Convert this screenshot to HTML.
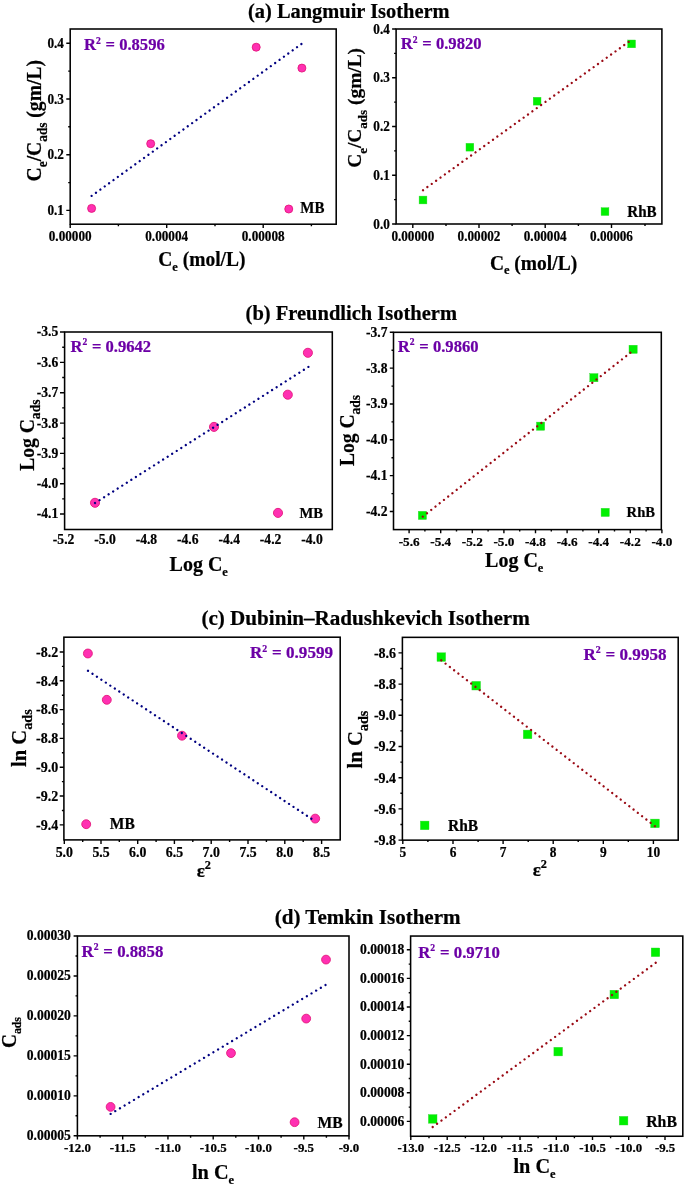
<!DOCTYPE html>
<html lang="en"><head><meta charset="utf-8"><title>Adsorption isotherms</title>
<style>html,body{margin:0;padding:0;background:#fff}svg{display:block}text{font-family:"Liberation Serif","Times New Roman",serif;font-weight:bold;fill:#000;stroke:#000;stroke-width:.22px;stroke-linejoin:round}</style></head><body>
<svg width="685" height="1186" viewBox="0 0 685 1186">
<rect width="685" height="1186" fill="#fff"/>
<text x="248.0" y="17.7" font-size="20.45" textLength="201.6" lengthAdjust="spacingAndGlyphs">(a) Langmuir Isotherm</text>
<text x="245.6" y="320.0" font-size="20.5" textLength="211.4" lengthAdjust="spacingAndGlyphs">(b) Freundlich Isotherm</text>
<text x="201.4" y="625.2" font-size="21.1" textLength="328.4" lengthAdjust="spacingAndGlyphs">(c) Dubinin–Radushkevich Isotherm</text>
<text x="274.7" y="923.8" font-size="21.0" textLength="185.9" lengthAdjust="spacingAndGlyphs">(d) Temkin Isotherm</text>
<g><rect x="70.2" y="29.0" width="266.0" height="195.2" fill="none" stroke="#000" stroke-width="1.55"/><path d="M70.2 43.2h-3.9M70.2 99.0h-3.9M70.2 154.7h-3.9M70.2 210.4h-3.9M70.2 71.1h-2.0M70.2 126.8h-2.0M70.2 182.6h-2.0M70.2 224.2v3.9M166.7 224.2v3.9M263.2 224.2v3.9M118.4 224.2v2.0M215.0 224.2v2.0M311.4 224.2v2.0" stroke="#000" stroke-width="1.4" fill="none"/><text transform="translate(63.90 47.90) scale(1 1.08)" font-size="13.2" text-anchor="end">0.4</text><text transform="translate(63.90 103.70) scale(1 1.08)" font-size="13.2" text-anchor="end">0.3</text><text transform="translate(63.90 159.40) scale(1 1.08)" font-size="13.2" text-anchor="end">0.2</text><text transform="translate(63.90 215.10) scale(1 1.08)" font-size="13.2" text-anchor="end">0.1</text><text transform="translate(70.20 240.60) scale(1 1.08)" font-size="13.2" text-anchor="middle">0.00000</text><text transform="translate(166.70 240.60) scale(1 1.08)" font-size="13.2" text-anchor="middle">0.00004</text><text transform="translate(263.20 240.60) scale(1 1.08)" font-size="13.2" text-anchor="middle">0.00008</text><circle cx="91.6" cy="208.4" r="4.00" fill="#FF30B2" stroke="#E4187C" stroke-width="0.9"/><circle cx="150.7" cy="143.7" r="4.00" fill="#FF30B2" stroke="#E4187C" stroke-width="0.9"/><circle cx="256.2" cy="47.2" r="4.00" fill="#FF30B2" stroke="#E4187C" stroke-width="0.9"/><circle cx="301.9" cy="68.1" r="4.00" fill="#FF30B2" stroke="#E4187C" stroke-width="0.9"/><circle cx="288.75" cy="209.0" r="4.00" fill="#FF30B2" stroke="#E4187C" stroke-width="0.9"/><line x1="91.6" y1="195.9" x2="301.48" y2="43.94" stroke="#000080" stroke-width="2.3" stroke-linecap="round" stroke-dasharray="0.01 5.386"/><text transform="translate(300.30 212.50) scale(1 1.06)" font-size="15.0">MB</text><text transform="translate(84.00 50.00) scale(1 1.03)" font-size="16.6" style="fill:#6C00A6;stroke:#6C00A6">R<tspan dy="-6.2" font-size="9.6">2</tspan><tspan dy="6.2" dx="0.6"> = 0.8596</tspan></text><text transform="translate(201.90 265.80) scale(1 1.04)" font-size="19.5" text-anchor="middle">C<tspan dy="4.7" font-size="12.4">e</tspan><tspan dy="-4.7"> (mol/L)</tspan></text><text transform="translate(40.80 120.70) rotate(-90) scale(1 1.06)" font-size="19.6" text-anchor="middle">C<tspan dy="5.8" font-size="13.3">e</tspan><tspan dy="-5.8">/C</tspan><tspan dy="5.8" font-size="13.3">ads</tspan><tspan dy="-5.8"> (gm/L)</tspan></text></g>
<g><rect x="396.1" y="29.0" width="265.8" height="195.0" fill="none" stroke="#000" stroke-width="1.55"/><path d="M396.1 29.0h-4.0M396.1 77.75h-4.0M396.1 126.5h-4.0M396.1 175.25h-4.0M396.1 224.0h-4.0M396.1 53.4h-2.0M396.1 102.1h-2.0M396.1 150.9h-2.0M396.1 199.6h-2.0M412.8 224.0v4.0M479.0 224.0v4.0M545.2 224.0v4.0M611.5 224.0v4.0M446.0 224.0v2.0M512.1 224.0v2.0M578.4 224.0v2.0M645.0 224.0v2.0" stroke="#000" stroke-width="1.4" fill="none"/><text transform="translate(389.80 33.70) scale(1 1.08)" font-size="13.2" text-anchor="end">0.4</text><text transform="translate(389.80 82.45) scale(1 1.08)" font-size="13.2" text-anchor="end">0.3</text><text transform="translate(389.80 131.20) scale(1 1.08)" font-size="13.2" text-anchor="end">0.2</text><text transform="translate(389.80 179.95) scale(1 1.08)" font-size="13.2" text-anchor="end">0.1</text><text transform="translate(389.80 228.70) scale(1 1.08)" font-size="13.2" text-anchor="end">0.0</text><text transform="translate(412.80 240.50) scale(1 1.08)" font-size="13.2" text-anchor="middle">0.00000</text><text transform="translate(479.00 240.50) scale(1 1.08)" font-size="13.2" text-anchor="middle">0.00002</text><text transform="translate(545.20 240.50) scale(1 1.08)" font-size="13.2" text-anchor="middle">0.00004</text><text transform="translate(611.50 240.50) scale(1 1.08)" font-size="13.2" text-anchor="middle">0.00006</text><rect x="419.10" y="196.10" width="7.80" height="7.80" fill="#00F000" stroke="#2ED62E" stroke-width="0.4"/><rect x="466.00" y="143.30" width="7.80" height="7.80" fill="#00F000" stroke="#2ED62E" stroke-width="0.4"/><rect x="533.20" y="97.30" width="7.80" height="7.80" fill="#00F000" stroke="#2ED62E" stroke-width="0.4"/><rect x="627.70" y="40.00" width="7.80" height="7.80" fill="#00F000" stroke="#2ED62E" stroke-width="0.4"/><rect x="601.10" y="207.70" width="7.80" height="7.80" fill="#00F000" stroke="#2ED62E" stroke-width="0.4"/><line x1="423" y1="190.2" x2="628.68" y2="41.84" stroke="#9A0A14" stroke-width="2.3" stroke-linecap="round" stroke-dasharray="0.01 5.384"/><text transform="translate(627.30 216.60) scale(1 1.06)" font-size="15.1">RhB</text><text transform="translate(400.80 49.00) scale(1 1.03)" font-size="16.6" style="fill:#6C00A6;stroke:#6C00A6">R<tspan dy="-6.2" font-size="9.6">2</tspan><tspan dy="6.2" dx="0.6"> = 0.9820</tspan></text><text transform="translate(533.50 269.60) scale(1 1.04)" font-size="19.5" text-anchor="middle">C<tspan dy="4.7" font-size="12.4">e</tspan><tspan dy="-4.7"> (mol/L)</tspan></text><text transform="translate(361.20 107.90) rotate(-90)" font-size="19.4" text-anchor="middle">C<tspan dy="5.7" font-size="13.0">e</tspan><tspan dy="-5.7">/C</tspan><tspan dy="5.7" font-size="13.0">ads</tspan><tspan dy="-5.7"> (gm/L)</tspan></text></g>
<g><rect x="64.6" y="332.0" width="267.7" height="197.5" fill="none" stroke="#000" stroke-width="1.55"/><path d="M64.6 332.0h-4.6M64.6 362.4h-4.6M64.6 392.7h-4.6M64.6 423.1h-4.6M64.6 453.4h-4.6M64.6 483.7h-4.6M64.6 514.0h-4.6M64.6 347.2h-2.4M64.6 377.5h-2.4M64.6 407.9h-2.4M64.6 438.2h-2.4M64.6 468.5h-2.4M64.6 498.9h-2.4" stroke="#000" stroke-width="1.4" fill="none"/><text transform="translate(58.30 336.49)" font-size="13.6" text-anchor="end">-3.5</text><text transform="translate(58.30 366.89)" font-size="13.6" text-anchor="end">-3.6</text><text transform="translate(58.30 397.19)" font-size="13.6" text-anchor="end">-3.7</text><text transform="translate(58.30 427.59)" font-size="13.6" text-anchor="end">-3.8</text><text transform="translate(58.30 457.89)" font-size="13.6" text-anchor="end">-3.9</text><text transform="translate(58.30 488.19)" font-size="13.6" text-anchor="end">-4.0</text><text transform="translate(58.30 518.49)" font-size="13.6" text-anchor="end">-4.1</text><text transform="translate(63.60 543.60)" font-size="13.6" text-anchor="middle">-5.2</text><text transform="translate(105.00 543.60)" font-size="13.6" text-anchor="middle">-5.0</text><text transform="translate(146.40 543.60)" font-size="13.6" text-anchor="middle">-4.8</text><text transform="translate(187.80 543.60)" font-size="13.6" text-anchor="middle">-4.6</text><text transform="translate(229.20 543.60)" font-size="13.6" text-anchor="middle">-4.4</text><text transform="translate(270.60 543.60)" font-size="13.6" text-anchor="middle">-4.2</text><text transform="translate(312.00 543.60)" font-size="13.6" text-anchor="middle">-4.0</text><circle cx="95" cy="502.8" r="4.55" fill="#FF30B2" stroke="#E4187C" stroke-width="0.9"/><circle cx="214" cy="426.9" r="4.55" fill="#FF30B2" stroke="#E4187C" stroke-width="0.9"/><circle cx="287.8" cy="394.7" r="4.55" fill="#FF30B2" stroke="#E4187C" stroke-width="0.9"/><circle cx="307.9" cy="352.8" r="4.55" fill="#FF30B2" stroke="#E4187C" stroke-width="0.9"/><circle cx="278" cy="512.9" r="4.55" fill="#FF30B2" stroke="#E4187C" stroke-width="0.9"/><line x1="95" y1="503" x2="308.48" y2="366.85" stroke="#000080" stroke-width="2.3" stroke-linecap="round" stroke-dasharray="0.01 5.375"/><text transform="translate(299.60 517.90) scale(1 1.06)" font-size="14.6">MB</text><text transform="translate(70.40 351.50) scale(1 1.03)" font-size="16.6" style="fill:#6C00A6;stroke:#6C00A6">R<tspan dy="-6.2" font-size="9.6">2</tspan><tspan dy="6.2" dx="0.6"> = 0.9642</tspan></text><text transform="translate(198.70 571.00) scale(1 1.04)" font-size="20.0" text-anchor="middle">Log C<tspan dy="4.8" font-size="12.4">e</tspan></text><text transform="translate(34.00 435.20) rotate(-90) scale(1 1.04)" font-size="19.6" text-anchor="middle">Log C<tspan dy="5.9" font-size="13.6">ads</tspan></text></g>
<g><rect x="393.5" y="332.3" width="267.8" height="197.3" fill="none" stroke="#000" stroke-width="1.55"/><path d="M393.5 332.3h-3.7M393.5 368.1h-3.7M393.5 404.0h-3.7M393.5 439.8h-3.7M393.5 475.6h-3.7M393.5 511.5h-3.7M393.5 350.2h-2.0M393.5 386.1h-2.0M393.5 421.9h-2.0M393.5 457.7h-2.0M393.5 493.6h-2.0M409.1 529.6v3.7M440.7 529.6v3.7M472.3 529.6v3.7M503.9 529.6v3.7M535.5 529.6v3.7M567.1 529.6v3.7M598.7 529.6v3.7M630.3 529.6v3.7M661.9 529.6v3.7M424.9 529.6v2.0M456.5 529.6v2.0M488.1 529.6v2.0M519.7 529.6v2.0M551.3 529.6v2.0M582.9 529.6v2.0M614.5 529.6v2.0M646.1 529.6v2.0" stroke="#000" stroke-width="1.4" fill="none"/><text transform="translate(387.50 336.79)" font-size="13.6" text-anchor="end">-3.7</text><text transform="translate(387.50 372.59)" font-size="13.6" text-anchor="end">-3.8</text><text transform="translate(387.50 408.49)" font-size="13.6" text-anchor="end">-3.9</text><text transform="translate(387.50 444.29)" font-size="13.6" text-anchor="end">-4.0</text><text transform="translate(387.50 480.09)" font-size="13.6" text-anchor="end">-4.1</text><text transform="translate(387.50 515.99)" font-size="13.6" text-anchor="end">-4.2</text><text transform="translate(409.10 546.00)" font-size="13.2" text-anchor="middle">-5.6</text><text transform="translate(440.70 546.00)" font-size="13.2" text-anchor="middle">-5.4</text><text transform="translate(472.30 546.00)" font-size="13.2" text-anchor="middle">-5.2</text><text transform="translate(503.90 546.00)" font-size="13.2" text-anchor="middle">-5.0</text><text transform="translate(535.50 546.00)" font-size="13.2" text-anchor="middle">-4.8</text><text transform="translate(567.10 546.00)" font-size="13.2" text-anchor="middle">-4.6</text><text transform="translate(598.70 546.00)" font-size="13.2" text-anchor="middle">-4.4</text><text transform="translate(630.30 546.00)" font-size="13.2" text-anchor="middle">-4.2</text><text transform="translate(661.90 546.00)" font-size="13.2" text-anchor="middle">-4.0</text><rect x="418.30" y="511.30" width="8.20" height="8.20" fill="#00F000" stroke="#2ED62E" stroke-width="0.4"/><rect x="536.50" y="422.10" width="8.20" height="8.20" fill="#00F000" stroke="#2ED62E" stroke-width="0.4"/><rect x="589.80" y="373.60" width="8.20" height="8.20" fill="#00F000" stroke="#2ED62E" stroke-width="0.4"/><rect x="629.00" y="345.20" width="8.20" height="8.20" fill="#00F000" stroke="#2ED62E" stroke-width="0.4"/><rect x="601.10" y="508.30" width="8.20" height="8.20" fill="#00F000" stroke="#2ED62E" stroke-width="0.4"/><line x1="422.75" y1="516.6" x2="630.48" y2="352.64" stroke="#9A0A14" stroke-width="2.3" stroke-linecap="round" stroke-dasharray="0.01 5.389"/><text transform="translate(626.60 516.60) scale(1 1.06)" font-size="14.6">RhB</text><text transform="translate(397.80 351.50) scale(1 1.03)" font-size="16.6" style="fill:#6C00A6;stroke:#6C00A6">R<tspan dy="-6.2" font-size="9.6">2</tspan><tspan dy="6.2" dx="0.6"> = 0.9860</tspan></text><text transform="translate(514.20 567.20) scale(1 1.04)" font-size="20.0" text-anchor="middle">Log C<tspan dy="4.8" font-size="12.4">e</tspan></text><text transform="translate(353.60 430.50) rotate(-90) scale(1 1.04)" font-size="19.6" text-anchor="middle">Log C<tspan dy="5.7" font-size="13.5">ads</tspan></text></g>
<g><rect x="63.9" y="637.2" width="276.3" height="202.7" fill="none" stroke="#000" stroke-width="1.55"/><path d="M63.9 652.0h-4.2M63.9 680.8h-4.2M63.9 709.6h-4.2M63.9 738.4h-4.2M63.9 767.2h-4.2M63.9 796.0h-4.2M63.9 824.9h-4.2M63.9 666.4h-2.0M63.9 695.2h-2.0M63.9 724.0h-2.0M63.9 752.8h-2.0M63.9 781.6h-2.0M63.9 810.5h-2.0M64.3 839.9v4.2M101.0 839.9v4.2M137.7 839.9v4.2M174.4 839.9v4.2M211.2 839.9v4.2M248 839.9v4.2M284.8 839.9v4.2M321.6 839.9v4.2M82.7 839.9v2.0M119.3 839.9v2.0M156.1 839.9v2.0M192.8 839.9v2.0M229.6 839.9v2.0M266.4 839.9v2.0M303.2 839.9v2.0" stroke="#000" stroke-width="1.4" fill="none"/><text transform="translate(58.20 656.80) scale(1 1.04)" font-size="14.0" text-anchor="end">-8.2</text><text transform="translate(58.20 685.60) scale(1 1.04)" font-size="14.0" text-anchor="end">-8.4</text><text transform="translate(58.20 714.40) scale(1 1.04)" font-size="14.0" text-anchor="end">-8.6</text><text transform="translate(58.20 743.20) scale(1 1.04)" font-size="14.0" text-anchor="end">-8.8</text><text transform="translate(58.20 772.00) scale(1 1.04)" font-size="14.0" text-anchor="end">-9.0</text><text transform="translate(58.20 800.80) scale(1 1.04)" font-size="14.0" text-anchor="end">-9.2</text><text transform="translate(58.20 829.70) scale(1 1.04)" font-size="14.0" text-anchor="end">-9.4</text><text transform="translate(64.30 857.00) scale(1 1.08)" font-size="13.8" text-anchor="middle">5.0</text><text transform="translate(101.00 857.00) scale(1 1.08)" font-size="13.8" text-anchor="middle">5.5</text><text transform="translate(137.70 857.00) scale(1 1.08)" font-size="13.8" text-anchor="middle">6.0</text><text transform="translate(174.40 857.00) scale(1 1.08)" font-size="13.8" text-anchor="middle">6.5</text><text transform="translate(211.20 857.00) scale(1 1.08)" font-size="13.8" text-anchor="middle">7.0</text><text transform="translate(248.00 857.00) scale(1 1.08)" font-size="13.8" text-anchor="middle">7.5</text><text transform="translate(284.80 857.00) scale(1 1.08)" font-size="13.8" text-anchor="middle">8.0</text><text transform="translate(321.60 857.00) scale(1 1.08)" font-size="13.8" text-anchor="middle">8.5</text><circle cx="87.9" cy="653.5" r="4.45" fill="#FF30B2" stroke="#E4187C" stroke-width="0.9"/><circle cx="106.8" cy="699.8" r="4.45" fill="#FF30B2" stroke="#E4187C" stroke-width="0.9"/><circle cx="182" cy="735.7" r="4.45" fill="#FF30B2" stroke="#E4187C" stroke-width="0.9"/><circle cx="315.2" cy="818.6" r="4.45" fill="#FF30B2" stroke="#E4187C" stroke-width="0.9"/><circle cx="86.2" cy="824.2" r="4.45" fill="#FF30B2" stroke="#E4187C" stroke-width="0.9"/><line x1="88.0" y1="670.8" x2="311.48" y2="818.76" stroke="#000080" stroke-width="2.3" stroke-linecap="round" stroke-dasharray="0.01 5.348"/><text transform="translate(109.80 829.20) scale(1 1.06)" font-size="15.5">MB</text><text transform="translate(249.90 658.30) scale(1 1.03)" font-size="17.1" style="fill:#6C00A6;stroke:#6C00A6">R<tspan dy="-6.2" font-size="9.9">2</tspan><tspan dy="6.2" dx="0.6"> = 0.9599</tspan></text><text transform="translate(203.80 876.80) scale(1 1.04)" font-size="19" text-anchor="middle"><tspan font-size="19">ε</tspan><tspan dy="-7.6" font-size="12.3">2</tspan></text><text transform="translate(25.50 738.10) rotate(-90) scale(1 1.04)" font-size="20.6" text-anchor="middle">ln C<tspan dy="5.9" font-size="14.3">ads</tspan></text></g>
<g><rect x="402.4" y="637.35" width="275.8" height="202.8" fill="none" stroke="#000" stroke-width="1.55"/><path d="M402.4 652.9h-3.9M402.4 684.1h-3.9M402.4 715.3h-3.9M402.4 746.5h-3.9M402.4 777.7h-3.9M402.4 808.9h-3.9M402.4 840.1h-3.9M402.4 668.5h-2.0M402.4 699.7h-2.0M402.4 730.9h-2.0M402.4 762.1h-2.0M402.4 793.3h-2.0M402.4 824.5h-2.0M402.8 840.1v3.9M453.0 840.1v3.9M503.1 840.1v3.9M553.2 840.1v3.9M603.3 840.1v3.9M653.4 840.1v3.9M427.9 840.1v2.0M478.1 840.1v2.0M528.2 840.1v2.0M578.2 840.1v2.0M628.3 840.1v2.0" stroke="#000" stroke-width="1.4" fill="none"/><text transform="translate(396.10 657.70) scale(1 1.04)" font-size="14.0" text-anchor="end">-8.6</text><text transform="translate(396.10 688.90) scale(1 1.04)" font-size="14.0" text-anchor="end">-8.8</text><text transform="translate(396.10 720.10) scale(1 1.04)" font-size="14.0" text-anchor="end">-9.0</text><text transform="translate(396.10 751.30) scale(1 1.04)" font-size="14.0" text-anchor="end">-9.2</text><text transform="translate(396.10 782.50) scale(1 1.04)" font-size="14.0" text-anchor="end">-9.4</text><text transform="translate(396.10 813.70) scale(1 1.04)" font-size="14.0" text-anchor="end">-9.6</text><text transform="translate(396.10 844.90) scale(1 1.04)" font-size="14.0" text-anchor="end">-9.8</text><text transform="translate(402.80 856.80) scale(1 1.12)" font-size="13.4" text-anchor="middle">5</text><text transform="translate(453.00 856.80) scale(1 1.12)" font-size="13.4" text-anchor="middle">6</text><text transform="translate(503.10 856.80) scale(1 1.12)" font-size="13.4" text-anchor="middle">7</text><text transform="translate(553.20 856.80) scale(1 1.12)" font-size="13.4" text-anchor="middle">8</text><text transform="translate(603.30 856.80) scale(1 1.12)" font-size="13.4" text-anchor="middle">9</text><text transform="translate(653.40 856.80) scale(1 1.12)" font-size="13.4" text-anchor="middle">10</text><rect x="437.00" y="652.80" width="8.60" height="8.60" fill="#00F000" stroke="#2ED62E" stroke-width="0.4"/><rect x="471.90" y="681.40" width="8.60" height="8.60" fill="#00F000" stroke="#2ED62E" stroke-width="0.4"/><rect x="523.30" y="730.10" width="8.60" height="8.60" fill="#00F000" stroke="#2ED62E" stroke-width="0.4"/><rect x="650.70" y="819.10" width="8.60" height="8.60" fill="#00F000" stroke="#2ED62E" stroke-width="0.4"/><rect x="420.40" y="821.10" width="8.60" height="8.60" fill="#00F000" stroke="#2ED62E" stroke-width="0.4"/><line x1="441.3" y1="660.3" x2="654.98" y2="826.16" stroke="#9A0A14" stroke-width="2.3" stroke-linecap="round" stroke-dasharray="0.01 5.398"/><text transform="translate(448.00 830.50) scale(1 1.06)" font-size="15.5">RhB</text><text transform="translate(583.40 659.60) scale(1 1.03)" font-size="17.1" style="fill:#6C00A6;stroke:#6C00A6">R<tspan dy="-6.2" font-size="9.9">2</tspan><tspan dy="6.2" dx="0.6"> = 0.9958</tspan></text><text transform="translate(539.80 876.10) scale(1 1.04)" font-size="19" text-anchor="middle"><tspan font-size="19">ε</tspan><tspan dy="-7.6" font-size="12.3">2</tspan></text><text transform="translate(361.60 739.50) rotate(-90) scale(1 1.04)" font-size="20.6" text-anchor="middle">ln C<tspan dy="5.9" font-size="14.3">ads</tspan></text></g>
<g><rect x="77.4" y="936.0" width="271.6" height="199.8" fill="none" stroke="#000" stroke-width="1.55"/><path d="M77.4 936.0h-3.8M77.4 975.95h-3.8M77.4 1015.9h-3.8M77.4 1055.9h-3.8M77.4 1095.85h-3.8M77.4 1135.8h-3.8M77.4 956.0h-1.9M77.4 995.9h-1.9M77.4 1035.9h-1.9M77.4 1075.9h-1.9M77.4 1115.8h-1.9M77.4 1135.8v3.8M122.7 1135.8v3.8M167.95 1135.8v3.8M213.2 1135.8v3.8M258.5 1135.8v3.8M303.8 1135.8v3.8M349.0 1135.8v3.8M100.1 1135.8v1.9M145.3 1135.8v1.9M190.6 1135.8v1.9M235.8 1135.8v1.9M281.1 1135.8v1.9M326.4 1135.8v1.9" stroke="#000" stroke-width="1.4" fill="none"/><text transform="translate(70.90 940.49)" font-size="13.6" text-anchor="end">0.00030</text><text transform="translate(70.90 980.44)" font-size="13.6" text-anchor="end">0.00025</text><text transform="translate(70.90 1020.39)" font-size="13.6" text-anchor="end">0.00020</text><text transform="translate(70.90 1060.39)" font-size="13.6" text-anchor="end">0.00015</text><text transform="translate(70.90 1100.34)" font-size="13.6" text-anchor="end">0.00010</text><text transform="translate(70.90 1140.29)" font-size="13.6" text-anchor="end">0.00005</text><text transform="translate(77.40 1151.70)" font-size="12.9" text-anchor="middle">-12.0</text><text transform="translate(122.70 1151.70)" font-size="12.9" text-anchor="middle">-11.5</text><text transform="translate(167.95 1151.70)" font-size="12.9" text-anchor="middle">-11.0</text><text transform="translate(213.20 1151.70)" font-size="12.9" text-anchor="middle">-10.5</text><text transform="translate(258.50 1151.70)" font-size="12.9" text-anchor="middle">-10.0</text><text transform="translate(303.80 1151.70)" font-size="12.9" text-anchor="middle">-9.5</text><text transform="translate(349.00 1151.70)" font-size="12.9" text-anchor="middle">-9.0</text><circle cx="110.6" cy="1106.9" r="4.40" fill="#FF30B2" stroke="#E4187C" stroke-width="0.9"/><circle cx="231" cy="1053.1" r="4.40" fill="#FF30B2" stroke="#E4187C" stroke-width="0.9"/><circle cx="306.2" cy="1018.6" r="4.40" fill="#FF30B2" stroke="#E4187C" stroke-width="0.9"/><circle cx="326" cy="959.6" r="4.40" fill="#FF30B2" stroke="#E4187C" stroke-width="0.9"/><circle cx="294.6" cy="1122.2" r="4.40" fill="#FF30B2" stroke="#E4187C" stroke-width="0.9"/><line x1="110.6" y1="1113.9" x2="325.59" y2="984.95" stroke="#000080" stroke-width="2.3" stroke-linecap="round" stroke-dasharray="0.01 5.438"/><text transform="translate(317.50 1127.60) scale(1 1.06)" font-size="15.6">MB</text><text transform="translate(81.60 956.50) scale(1 1.03)" font-size="16.8" style="fill:#6C00A6;stroke:#6C00A6">R<tspan dy="-6.2" font-size="9.7">2</tspan><tspan dy="6.2" dx="0.6"> = 0.8858</tspan></text><text transform="translate(213.00 1178.70) scale(1 1.04)" font-size="20.3" text-anchor="middle">ln C<tspan dy="4.8" font-size="12.4">e</tspan></text><text transform="translate(15.50 1032.50) rotate(-90) scale(1 1.04)" font-size="19.2" text-anchor="middle">C<tspan dy="5.0" font-size="11.7">ads</tspan></text></g>
<g><rect x="410.6" y="936.05" width="272.2" height="200.2" fill="none" stroke="#000" stroke-width="1.55"/><path d="M410.6 949.8h-3.8M410.6 978.4h-3.8M410.6 1007.0h-3.8M410.6 1035.6h-3.8M410.6 1064.2h-3.8M410.6 1092.8h-3.8M410.6 1121.4h-3.8M410.6 964.1h-1.9M410.6 992.7h-1.9M410.6 1021.3h-1.9M410.6 1049.9h-1.9M410.6 1078.5h-1.9M410.6 1107.1h-1.9M410.8 1136.3v3.8M447.2 1136.3v3.8M483.6 1136.3v3.8M520 1136.3v3.8M556.3 1136.3v3.8M592.5 1136.3v3.8M628.7 1136.3v3.8M665 1136.3v3.8M429.0 1136.3v1.9M465.4 1136.3v1.9M501.8 1136.3v1.9M538.1 1136.3v1.9M574.4 1136.3v1.9M610.6 1136.3v1.9M646.9 1136.3v1.9" stroke="#000" stroke-width="1.4" fill="none"/><text transform="translate(404.30 954.29)" font-size="13.6" text-anchor="end">0.00018</text><text transform="translate(404.30 982.89)" font-size="13.6" text-anchor="end">0.00016</text><text transform="translate(404.30 1011.49)" font-size="13.6" text-anchor="end">0.00014</text><text transform="translate(404.30 1040.09)" font-size="13.6" text-anchor="end">0.00012</text><text transform="translate(404.30 1068.69)" font-size="13.6" text-anchor="end">0.00010</text><text transform="translate(404.30 1097.29)" font-size="13.6" text-anchor="end">0.00008</text><text transform="translate(404.30 1125.89)" font-size="13.6" text-anchor="end">0.00006</text><text transform="translate(410.80 1151.50)" font-size="12.8" text-anchor="middle">-13.0</text><text transform="translate(447.20 1151.50)" font-size="12.8" text-anchor="middle">-12.5</text><text transform="translate(483.60 1151.50)" font-size="12.8" text-anchor="middle">-12.0</text><text transform="translate(520.00 1151.50)" font-size="12.8" text-anchor="middle">-11.5</text><text transform="translate(556.30 1151.50)" font-size="12.8" text-anchor="middle">-11.0</text><text transform="translate(592.50 1151.50)" font-size="12.8" text-anchor="middle">-10.5</text><text transform="translate(628.70 1151.50)" font-size="12.8" text-anchor="middle">-10.0</text><text transform="translate(665.00 1151.50)" font-size="12.8" text-anchor="middle">-9.5</text><rect x="428.40" y="1114.60" width="8.60" height="8.60" fill="#00F000" stroke="#2ED62E" stroke-width="0.4"/><rect x="553.90" y="1047.30" width="8.60" height="8.60" fill="#00F000" stroke="#2ED62E" stroke-width="0.4"/><rect x="610.00" y="990.20" width="8.60" height="8.60" fill="#00F000" stroke="#2ED62E" stroke-width="0.4"/><rect x="651.20" y="948.00" width="8.60" height="8.60" fill="#00F000" stroke="#2ED62E" stroke-width="0.4"/><rect x="619.30" y="1116.40" width="8.60" height="8.60" fill="#00F000" stroke="#2ED62E" stroke-width="0.4"/><line x1="432.7" y1="1127" x2="655.78" y2="962.74" stroke="#9A0A14" stroke-width="2.3" stroke-linecap="round" stroke-dasharray="0.01 5.420"/><text transform="translate(646.20 1126.50) scale(1 1.06)" font-size="15.8">RhB</text><text transform="translate(418.20 957.50) scale(1 1.03)" font-size="16.8" style="fill:#6C00A6;stroke:#6C00A6">R<tspan dy="-6.2" font-size="9.7">2</tspan><tspan dy="6.2" dx="0.6"> = 0.9710</tspan></text><text transform="translate(534.50 1172.90) scale(1 1.04)" font-size="20.3" text-anchor="middle">ln C<tspan dy="4.8" font-size="12.4">e</tspan></text></g>
</svg></body></html>
